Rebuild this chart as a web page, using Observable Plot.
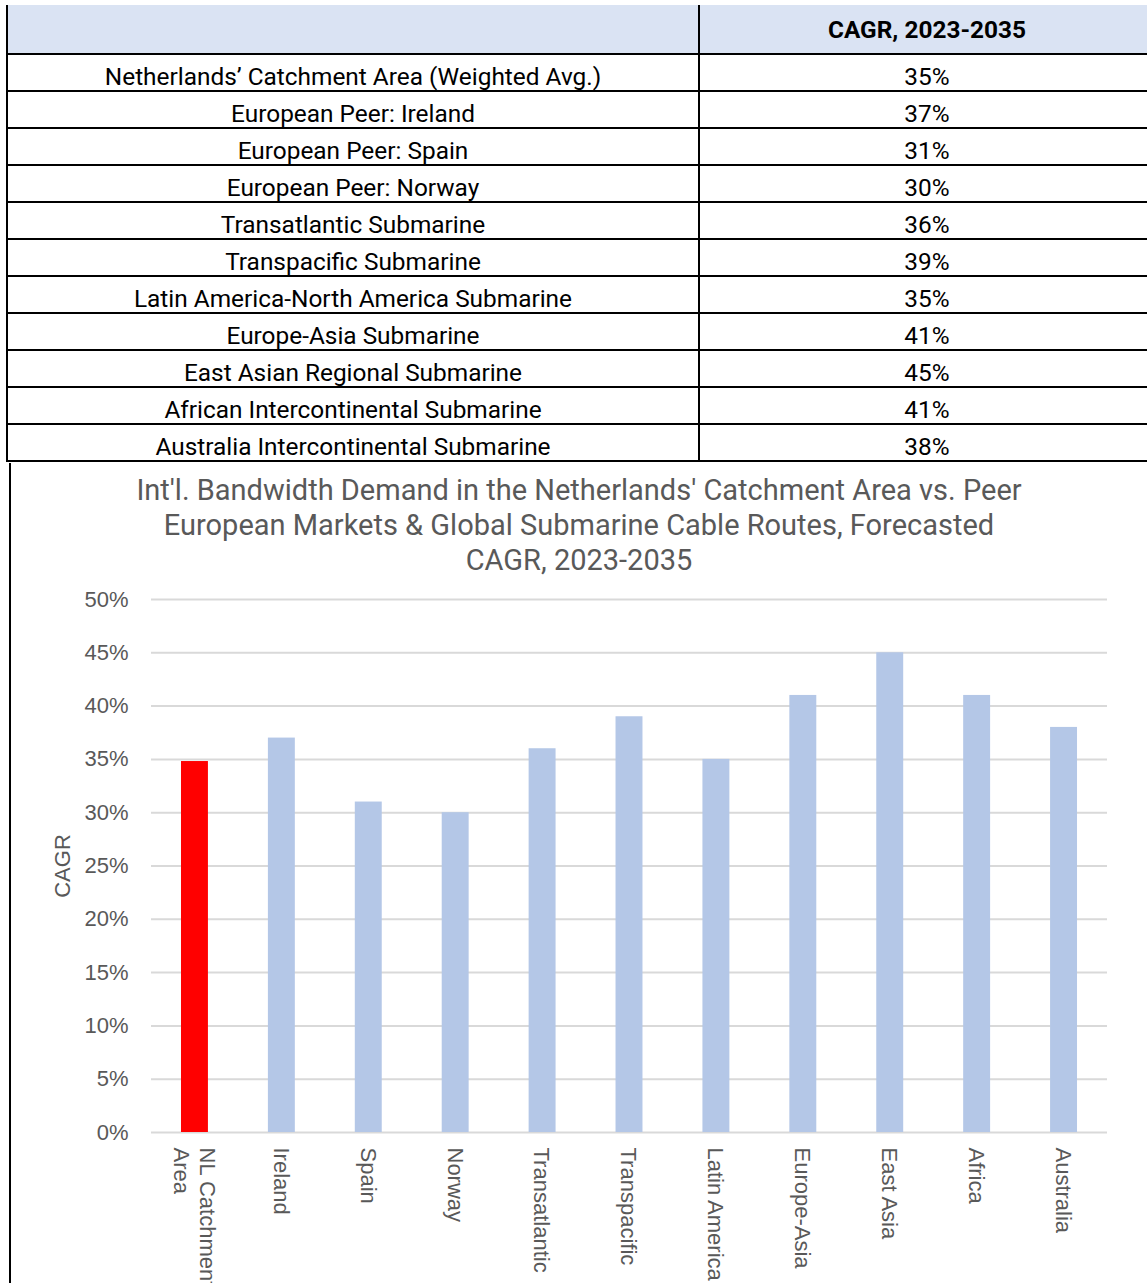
<!DOCTYPE html>
<html>
<head>
<meta charset="utf-8">
<script src="https://cdn.jsdelivr.net/npm/d3@7"></script>
<script src="https://cdn.jsdelivr.net/npm/@observablehq/plot@0.6"></script>
<style>
  html, body { margin: 0; padding: 0; background: #fff; width: 1147px; height: 1283px; overflow: hidden; position: relative; }
  #table { position: absolute; left: 6px; top: 5px; width: 1146px; border-left: 2px solid #000; font-family: Roboto, sans-serif; font-size: 24.4px; color: #000; }
  .row { display: flex; height: 35px; border-bottom: 2px solid #000; }
  .row.head { height: 48px; background: #dae3f3; font-weight: bold; }
  .cell { display: flex; align-items: center; justify-content: center; white-space: nowrap; box-sizing: border-box; }
  .row:not(.head) .cell { padding-top: 8px; }
  .c1 { width: 692px; border-right: 2px solid #000; }
  .c2 { flex: 1; }
  #chart { position: absolute; left: 9px; top: 463px; width: 1136px; height: 830px; border-left: 2px solid #000; }
  #title { position: absolute; left: 0; top: 10px; width: 1136px; text-align: center; font-family: Roboto, sans-serif; font-size: 29px; line-height: 35px; color: #595959; white-space: nowrap; }
  #plot { position: absolute; left: 0; top: 117px; }
</style>
</head>
<body>
<div id="table"></div>
<div id="chart">
  <div id="title"></div>
  <div id="plot"></div>
</div>
<script>
// ---- data ----
const tableHeader = ["", "CAGR, 2023-2035"];
const tableLabels = [
  "Netherlands\u2019 Catchment Area (Weighted Avg.)",
  "European Peer: Ireland",
  "European Peer: Spain",
  "European Peer: Norway",
  "Transatlantic Submarine",
  "Transpacific Submarine",
  "Latin America-North America Submarine",
  "Europe-Asia Submarine",
  "East Asian Regional Submarine",
  "African Intercontinental Submarine",
  "Australia Intercontinental Submarine"
];
const tableValues = [35, 37, 31, 30, 36, 39, 35, 41, 45, 41, 38];

const titleLines = [
  "Int'l. Bandwidth Demand in the Netherlands' Catchment Area vs. Peer",
  "European Markets & Global Submarine Cable Routes, Forecasted",
  "CAGR, 2023-2035"
];
const categories = [
  "NL Catchment\nArea", "Ireland", "Spain", "Norway", "Transatlantic",
  "Transpacific", "Latin America", "Europe-Asia", "East Asia", "Africa", "Australia"
];
const chartValues = [34.8, 37, 31, 30, 36, 39, 35, 41, 45, 41, 38];
const barColors = ["#ff0000", "#b4c7e7", "#b4c7e7", "#b4c7e7", "#b4c7e7", "#b4c7e7", "#b4c7e7", "#b4c7e7", "#b4c7e7", "#b4c7e7", "#b4c7e7"];
const yTicks = [0, 5, 10, 15, 20, 25, 30, 35, 40, 45, 50];
const yLabel = "CAGR";

// ---- table ----
const table = d3.select("#table");
const head = table.append("div").attr("class", "row head");
head.append("div").attr("class", "cell c1").text(tableHeader[0]);
head.append("div").attr("class", "cell c2").text(tableHeader[1]);
tableLabels.forEach((lab, i) => {
  const r = table.append("div").attr("class", "row");
  r.append("div").attr("class", "cell c1").text(lab);
  r.append("div").attr("class", "cell c2").text(tableValues[i] + "%");
});

// ---- title ----
d3.select("#title").html(titleLines.map(t => t.replace(/&/g, "&amp;")).join("<br>"));

// ---- chart ----
const data = categories.map((c, i) => ({cat: c, value: chartValues[i], color: barColors[i]}));

const plot = Plot.plot({
  width: 1136,
  height: 703,
  marginLeft: 140,
  marginRight: 40,
  marginTop: 19,
  marginBottom: 151,
  style: {fontFamily: "'Liberation Sans', Arial, sans-serif", fontSize: "22px", color: "#595959", background: "transparent", overflow: "visible"},
  x: {domain: categories, paddingInner: 0.69, paddingOuter: 0.345, round: false, label: null},
  y: {domain: [0, 50], label: null},
  color: {type: "identity"},
  marks: [
    Plot.gridY(yTicks, {stroke: "#d9d9d9", strokeWidth: 2, strokeOpacity: 1}),
    Plot.barY(data, {x: "cat", y: "value", fill: "color"}),
    Plot.axisY(yTicks, {tickSize: 0, tickPadding: 23, tickFormat: d => d + "%", label: null, fontSize: 22}),
    Plot.axisX({tickSize: 0, tickPadding: 15, tickRotate: 90, label: null, fontSize: 22, lineHeight: 1.15}),
    Plot.text([yLabel], {frameAnchor: "left", dx: -89, rotate: -90, textAnchor: "middle", lineAnchor: "middle", fill: "#595959", fontSize: 22})
  ]
});
document.getElementById("plot").appendChild(plot);
</script>
</body>
</html>
